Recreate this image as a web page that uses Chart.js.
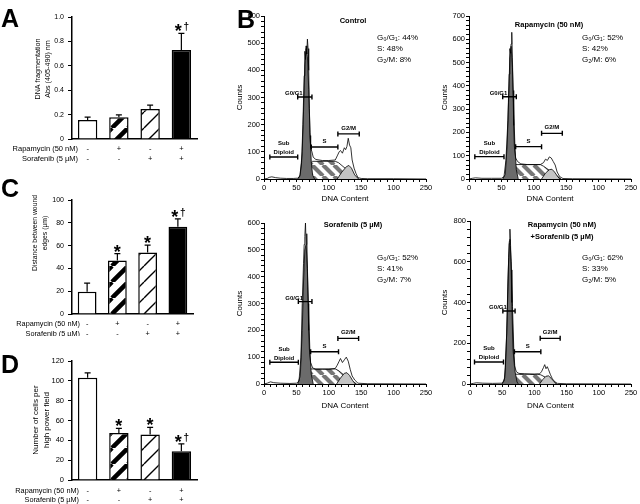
<!DOCTYPE html>
<html>
<head>
<meta charset="utf-8">
<script src="https://cdn.jsdelivr.net/npm/chart.js@4.4.1/dist/chart.umd.min.js"></script>
<style>
  body { margin: 0; background: #fff; width: 640px; height: 504px; position: relative; overflow: hidden; }
  canvas { position: absolute; }
</style>
</head>
<body>
<canvas id="chartA" width="232" height="168" style="left:0px;top:0px"></canvas>
<canvas id="chartC" width="232" height="166" style="left:0px;top:170px"></canvas>
<canvas id="chartD" width="232" height="168" style="left:0px;top:336px"></canvas>
<canvas id="histCtrl" width="200" height="210" style="left:235px;top:0px"></canvas>
<canvas id="histRapa" width="205" height="210" style="left:435px;top:0px"></canvas>
<canvas id="histSora" width="200" height="210" style="left:235px;top:210px"></canvas>
<canvas id="histBoth" width="205" height="210" style="left:435px;top:210px"></canvas>
<script>
const FONT = '"Liberation Sans", Arial, sans-serif';
Chart.defaults.font.family = FONT;
Chart.defaults.color = '#000';

// ---- bar panels (A, C, D) ----
const rapaRow = ['-', '+', '-', '+'];
const soraRow = ['-', '-', '+', '+'];
const groups = ['Control', 'Rapamycin', 'Sorafenib', 'Rapamycin + Sorafenib'];

const dnaFrag = [0.155, 0.178, 0.245, 0.73];
const dnaFragErr = [0.025, 0.02, 0.033, 0.135];
const dnaFragSig = ['', '', '', '*†'];

const woundGap = [19.5, 47, 54, 76.5];
const woundGapErr = [7.5, 6, 6.5, 7];
const woundGapSig = ['', '*', '*', '*†'];

const cellCount = [103, 47.5, 46, 29];
const cellCountErr = [5, 4.5, 7, 7.5];
const cellCountSig = ['', '*', '*', '*†'];

// ---- cell cycle histograms (B), points are [DNA content, counts] ----
const ctrlRaw = [[0,0],[5,2],[8,6],[12,8],[18,5],[25,3],[35,2],[45,2],[52,3],[55,8],[58,60],[60,200],[62,380],[63,470],[64,440],[65,490],[66,460],[67,515],[68,480],[69,400],[70,260],[71,160],[72,115],[74,100],[76,80],[80,72],[90,68],[100,68],[110,70],[113,85],[116,100],[118,105],[121,95],[124,115],[126,108],[128,120],[130,150],[132,125],[134,115],[136,70],[139,40],[142,20],[145,5],[150,2],[160,1],[200,1],[250,0]];
const ctrlG0G1 = [[52,0],[56,15],[59,100],[61,250],[63,420],[65,480],[67,450],[69,330],[71,170],[73,60],[75,15],[78,0]];
const ctrlS = [[60,0],[65,30],[70,55],[75,65],[110,65],[115,60],[125,40],[135,20],[146,0]];
const ctrlG2M = [[113,0],[120,25],[127,45],[131,50],[135,40],[140,15],[146,0]];
const ctrlGates = [[9,52,81,'Sub|Diploid'],[52,74,302,'G0/G1'],[73,114,118,'S'],[114,147,166,'G2/M']];
const ctrlStats = ['G₀/G₁: 44%', 'S: 48%', 'G₂/M: 8%'];

const rapaRaw = [[0,0],[5,3],[10,5],[20,3],[35,3],[50,3],[54,10],[57,80],[60,250],[62,450],[63,560],[64,540],[65,580],[66,630],[67,520],[68,380],[69,230],[70,140],[72,90],[75,75],[80,65],[90,62],[100,62],[110,62],[115,70],[118,85],[121,80],[124,95],[127,90],[130,75],[133,60],[136,30],[140,10],[145,2],[160,1],[250,0]];
const rapaG0G1 = [[52,0],[56,20],[59,150],[61,330],[63,520],[65,570],[67,480],[69,300],[71,130],[73,40],[76,0]];
const rapaS = [[58,0],[63,25],[68,55],[72,62],[110,62],[115,55],[125,35],[135,15],[142,0]];
const rapaG2M = [[112,0],[118,25],[124,40],[128,42],[132,30],[137,10],[140,0]];
const rapaGates = [[9,54,96,'Sub|Diploid'],[52,73,353,'G0/G1'],[72,112,139,'S'],[112,144,196,'G2/M']];
const rapaStats = ['G₀/G₁: 52%', 'S: 42%', 'G₂/M: 6%'];

const soraRaw = [[0,0],[5,3],[10,8],[15,5],[25,3],[40,2],[50,3],[54,10],[57,100],[59,300],[61,450],[62,520],[63,550],[64,600],[65,520],[66,560],[67,420],[68,300],[69,200],[70,130],[72,80],[75,60],[80,55],[90,55],[100,55],[110,58],[113,70],[116,85],[118,95],[121,80],[124,90],[127,100],[130,85],[133,55],[136,30],[140,15],[145,3],[160,1],[250,0]];
const soraG0G1 = [[52,0],[56,30],[59,200],[61,380],[63,500],[65,520],[67,430],[69,260],[71,110],[73,35],[76,0]];
const soraS = [[58,0],[63,25],[68,50],[72,56],[110,56],[115,50],[125,30],[135,12],[143,0]];
const soraG2M = [[112,0],[118,22],[124,40],[128,42],[132,32],[137,12],[141,0]];
const soraGates = [[9,53,81,'Sub|Diploid'],[53,74,307,'G0/G1'],[72,115,120,'S'],[114,146,170,'G2/M']];
const soraStats = ['G₀/G₁: 52%', 'S: 41%', 'G₂/M: 7%'];

const bothRaw = [[0,0],[5,3],[10,6],[20,4],[35,3],[50,4],[53,15],[55,80],[57,250],[59,480],[60,620],[61,700],[62,760],[63,680],[64,560],[65,400],[66,260],[67,160],[69,90],[72,60],[76,52],[85,50],[100,48],[108,50],[111,60],[114,80],[116,95],[118,75],[120,85],[122,70],[125,45],[128,25],[132,10],[136,3],[150,1],[250,0]];
const bothG0G1 = [[50,0],[54,30],[57,250],[59,520],[61,690],[62,710],[64,600],[66,380],[68,170],[70,60],[73,10],[75,0]];
const bothS = [[55,0],[60,20],[65,40],[70,48],[105,48],[110,45],[120,28],[128,12],[135,0]];
const bothG2M = [[108,0],[113,22],[118,38],[122,40],[126,28],[131,10],[134,0]];
const bothGates = [[7,52,108,'Sub|Diploid'],[51,70,358,'G0/G1'],[69,110,158,'S'],[109,140,224,'G2/M']];
const bothStats = ['G₀/G₁: 62%', 'S: 33%', 'G₂/M: 5%'];

const histXLabels = {0: '0', 50: '50', 100: '100', 150: '150', 200: '100', 250: '250'};

function stripes(size, width, fg, bg, back) {
  const c = document.createElement('canvas');
  c.width = c.height = size;
  const g = c.getContext('2d');
  g.fillStyle = bg; g.fillRect(0, 0, size, size);
  g.strokeStyle = fg; g.lineWidth = width;
  g.beginPath();
  for (const o of [-size, 0, size]) {
    if (back) { g.moveTo(o, 0); g.lineTo(o + size, size); }
    else { g.moveTo(o, size); g.lineTo(o + size, 0); }
  }
  g.stroke();
  return g.createPattern(c, 'repeat');
}

const thickHatch = stripes(16, 4.5, '#000', '#fff', false);
const thinHatch = stripes(16, 1.4, '#000', '#fff', false);
const grayHatch = stripes(11, 4.2, '#767676', '#fff', true);

function fixArea(W, H, a) {
  return {
    padding: {left: 0, top: a.top, right: W - a.right, bottom: 0},
    fitX: s => { s.height = H - a.bottom; },
    fitY: s => { s.width = a.left; }
  };
}

const barExtras = {
  id: 'barExtras',
  afterDatasetsDraw(chart, args, o) {
    const {ctx, scales: {x, y}} = chart;
    const vals = chart.data.datasets[0].data;
    ctx.save();
    ctx.strokeStyle = '#000';
    ctx.fillStyle = '#000';
    vals.forEach((v, i) => {
      const px = x.getPixelForValue(i);
      const y0 = y.getPixelForValue(v);
      const y1 = y.getPixelForValue(v + o.err[i]);
      ctx.lineWidth = 1.2;
      ctx.beginPath();
      ctx.moveTo(px, y0); ctx.lineTo(px, y1);
      ctx.moveTo(px - 3, y1); ctx.lineTo(px + 3, y1);
      ctx.stroke();
      const s = o.sig[i];
      if (s) {
        const cy = y1 - 6;
        ctx.textAlign = 'center';
        ctx.textBaseline = 'alphabetic';
        ctx.font = 'bold 18px ' + FONT;
        ctx.fillText('*', s.length > 1 ? px - 3 : px, cy + 10);
        if (s.length > 1) {
          ctx.font = 'bold 10px ' + FONT;
          ctx.textBaseline = 'middle';
          ctx.fillText('†', px + 5, cy);
        }
      }
      ctx.font = o.rowFont + 'px ' + FONT;
      ctx.textAlign = 'center';
      ctx.textBaseline = 'middle';
      ctx.fillText(rapaRow[i], px, o.rowY[0]);
      ctx.fillText(soraRow[i], px, o.rowY[1]);
    });
    ctx.font = o.rowFont + 'px ' + FONT;
    ctx.textAlign = 'right';
    ctx.textBaseline = 'middle';
    ctx.fillText('Rapamycin (50 nM)', o.rowX, o.rowY[0]);
    ctx.fillText('Sorafenib (5 µM)', o.rowX, o.rowY[1]);

    ctx.save();
    ctx.translate(o.titleX, o.titleY);
    ctx.rotate(-Math.PI / 2);
    ctx.font = o.titleFont + 'px ' + FONT;
    ctx.textAlign = 'center';
    o.title.forEach((t, k) => ctx.fillText(t, 0, k * 10.5));
    ctx.restore();

    ctx.font = 'bold 25px ' + FONT;
    ctx.textAlign = 'left';
    ctx.textBaseline = 'alphabetic';
    ctx.fillText(o.letter, 1, o.letterY);
    ctx.restore();
  }
};

function barChart(id, vals, errs, sigs, yMax, yStep, area, extra) {
  const cv = document.getElementById(id);
  const box = fixArea(cv.width, cv.height, area);
  return new Chart(cv, {
    type: 'bar',
    data: {
      labels: groups,
      datasets: [{
        data: vals,
        backgroundColor: ['#fff', thickHatch, thinHatch, '#000'],
        borderColor: '#000',
        borderWidth: 1.5,
        borderSkipped: 'bottom',
        barPercentage: 0.62,
        categoryPercentage: 1
      }]
    },
    options: {
      responsive: false, animation: false, events: [],
      layout: {padding: box.padding},
      plugins: {
        legend: {display: false}, tooltip: {enabled: false},
        barExtras: Object.assign({err: errs, sig: sigs}, extra)
      },
      scales: {
        x: {
          ticks: {display: false},
          grid: {display: false},
          border: {color: '#000', width: 1.5},
          afterFit: box.fitX
        },
        y: {
          min: 0, max: yMax,
          ticks: {stepSize: yStep, font: {size: extra.tickFont}, padding: 4},
          grid: {drawOnChartArea: false, color: '#000', tickLength: 4},
          border: {color: '#000', width: 1.5},
          afterFit: box.fitY
        }
      }
    },
    plugins: [barExtras]
  });
}

barChart('chartA', dnaFrag, dnaFragErr, dnaFragSig, 1, 0.2,
  {left: 72, right: 197, top: 17, bottom: 139},
  {rowY: [149, 159], rowX: 78, rowFont: 7.5, tickFont: 7, title: ['DNA fragmentation', 'Abs (405-490) nm'],
   titleX: 38, titleY: 69, titleFont: 7.2, letter: 'A', letterY: 27});

barChart('chartC', woundGap, woundGapErr, woundGapSig, 100, 20,
  {left: 72, right: 193, top: 30, bottom: 144},
  {rowY: [154, 164], rowX: 80, rowFont: 7.3, tickFont: 7, title: ['Distance between wound', 'edges (µm)'],
   titleX: 35, titleY: 63, titleFont: 6.8, letter: 'C', letterY: 27});

barChart('chartD', cellCount, cellCountErr, cellCountSig, 120, 20,
  {left: 72, right: 197, top: 25, bottom: 144},
  {rowY: [155, 164], rowX: 79, rowFont: 7.3, tickFont: 7.5, title: ['Number of cells per', 'high power field'],
   titleX: 36, titleY: 84, titleFont: 8, letter: 'D', letterY: 37});

const histExtras = {
  id: 'histExtras',
  afterDatasetsDraw(chart, args, o) {
    const {ctx, scales: {x, y}} = chart;
    ctx.save();
    ctx.strokeStyle = '#000';
    ctx.fillStyle = '#000';
    ctx.lineWidth = 1.4;
    o.gates.forEach(([a, b, h, label], k) => {
      const x0 = x.getPixelForValue(a), x1 = x.getPixelForValue(b), py = y.getPixelForValue(h);
      ctx.beginPath();
      ctx.moveTo(x0, py); ctx.lineTo(x1, py);
      ctx.moveTo(x0, py - 2.5); ctx.lineTo(x0, py + 2.5);
      ctx.moveTo(x1, py - 2.5); ctx.lineTo(x1, py + 2.5);
      ctx.stroke();
      ctx.font = 'bold 6px ' + FONT;
      ctx.textAlign = 'center';
      ctx.textBaseline = 'alphabetic';
      const lines = label.split('|');
      const dx = k === 1 ? -11 : 0;
      const gap = k === 0 ? 2.5 : (k === 1 ? 2 : 4);
      lines.forEach((t, j) => ctx.fillText(t, (x0 + x1) / 2 + dx, py - gap - (lines.length - 1 - j) * 9));
    });
    ctx.font = 'bold 7.5px ' + FONT;
    ctx.textAlign = 'center';
    ctx.textBaseline = 'middle';
    o.title.forEach((t, k) => ctx.fillText(t, o.titleX, o.titleY + k * 12));
    ctx.font = '8px ' + FONT;
    ctx.textAlign = 'left';
    o.stats.forEach((t, k) => ctx.fillText(t, o.statsX, o.statsY + k * 10.8));
    if (o.letter) {
      ctx.font = 'bold 25px ' + FONT;
      ctx.textBaseline = 'alphabetic';
      ctx.fillText(o.letter, 2, 28);
    }
    ctx.restore();
  }
};

function histChart(id, raw, g0g1, sPhase, g2m, gates, stats, yMax, yStep, yMajor, area, extra) {
  const cv = document.getElementById(id);
  const box = fixArea(cv.width, cv.height, area);
  const line = {pointRadius: 0, tension: 0, borderColor: '#000', borderWidth: 0.8};
  return new Chart(cv, {
    type: 'line',
    data: {
      datasets: [
        Object.assign({data: raw, fill: false}, line),
        Object.assign({data: g0g1, fill: 'origin', backgroundColor: '#6b6b6b'}, line),
        Object.assign({data: g2m, fill: 'origin', backgroundColor: '#c4c4c4'}, line),
        Object.assign({data: sPhase, fill: 'origin', backgroundColor: grayHatch}, line)
      ]
    },
    options: {
      responsive: false, animation: false, events: [],
      layout: {padding: box.padding},
      plugins: {
        legend: {display: false}, tooltip: {enabled: false},
        histExtras: Object.assign({gates: gates, stats: stats}, extra)
      },
      scales: {
        x: {
          type: 'linear', min: 0, max: 250,
          ticks: {stepSize: 10, autoSkip: false, maxRotation: 0, padding: 1, font: {size: 7.5},
                  callback: v => histXLabels[v] ?? ''},
          grid: {drawOnChartArea: false, color: '#000', tickLength: 3},
          border: {color: '#000', width: 1},
          title: {display: true, text: 'DNA Content', font: {size: 8}, padding: {top: 0, bottom: extra.xTitlePad}},
          afterFit: box.fitX
        },
        y: {
          min: 0, max: yMax,
          ticks: {stepSize: yStep, autoSkip: false, padding: 1, font: {size: 7.5},
                  callback: v => (v % yMajor === 0 ? String(v) : '')},
          grid: {drawOnChartArea: false, color: '#000', tickLength: 3},
          border: {color: '#000', width: 1},
          title: {display: true, text: 'Counts', font: {size: 8}, padding: {top: extra.yTitlePad, bottom: 0}},
          afterFit: box.fitY
        }
      }
    },
    plugins: [histExtras]
  });
}

histChart('histCtrl', ctrlRaw, ctrlG0G1, ctrlS, ctrlG2M, ctrlGates, ctrlStats, 600, 20, 100,
  {left: 29, right: 191, top: 16, bottom: 179},
  {title: ['Control'], titleX: 118, titleY: 21, statsX: 142, statsY: 38, xTitlePad: 6.6, yTitlePad: 0, letter: 'B'});

histChart('histRapa', rapaRaw, rapaG0G1, rapaS, rapaG2M, rapaGates, rapaStats, 700, 20, 100,
  {left: 34, right: 196, top: 16, bottom: 179},
  {title: ['Rapamycin (50 nM)'], titleX: 114, titleY: 25, statsX: 147, statsY: 38, xTitlePad: 6.6, yTitlePad: 4.6});

histChart('histSora', soraRaw, soraG0G1, soraS, soraG2M, soraGates, soraStats, 600, 20, 100,
  {left: 29, right: 191, top: 13, bottom: 174},
  {title: ['Sorafenib (5 µM)'], titleX: 118, titleY: 15, statsX: 142, statsY: 48, xTitlePad: 9.6, yTitlePad: 0});

histChart('histBoth', bothRaw, bothG0G1, bothS, bothG2M, bothGates, bothStats, 800, 40, 200,
  {left: 35, right: 196, top: 11, bottom: 174},
  {title: ['Rapamycin (50 nM)', '+Sorafenib (5 µM)'], titleX: 127, titleY: 15, statsX: 147, statsY: 48, xTitlePad: 9.6, yTitlePad: 4.6});
</script>
</body>
</html>
